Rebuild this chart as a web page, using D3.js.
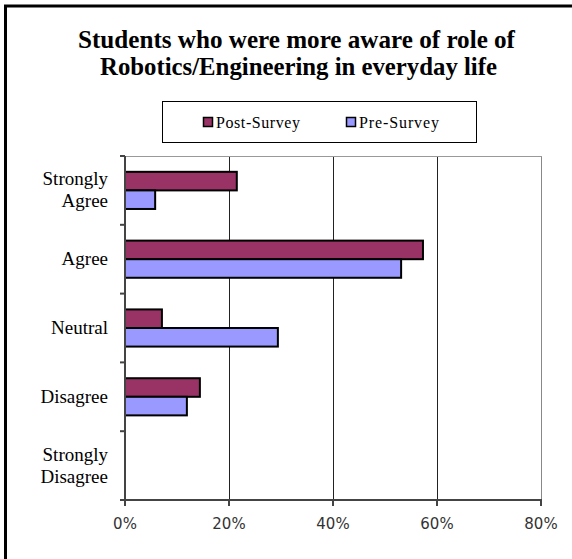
<!DOCTYPE html>
<html>
<head>
<meta charset="utf-8">
<script src="https://cdn.jsdelivr.net/npm/d3@7"></script>
<style>
html,body{margin:0;padding:0;background:#fff;}
svg{display:block;}
.serif{font-family:'Liberation Serif','Times New Roman','DejaVu Serif',serif;}
.sans{font-family:'DejaVu Sans',Verdana,sans-serif;}
</style>
</head>
<body>
<svg id="chart" width="572" height="559"></svg>
<script>
const categories = ["Strongly Agree", "Agree", "Neutral", "Disagree", "Strongly Disagree"];
const categoryLines = [["Strongly", "Agree"], ["Agree"], ["Neutral"], ["Disagree"], ["Strongly", "Disagree"]];
const seriesNames = ["Post-Survey", "Pre-Survey"];
const postSurvey = [21.5, 57.3, 7.1, 14.4, 0];
const preSurvey = [5.8, 53.1, 29.4, 11.9, 0];
const xTicks = [0, 20, 40, 60, 80];
const titleLines = ["Students who were more aware of role of", "Robotics/Engineering in everyday life"];
const colors = ["#993366", "#9999FF"];

(function () {
const svg = d3.select("#chart");
const pLeft = 125, pRight = 541, pTop = 156, pBottom = 500;

// outer frame
svg.append("rect").attr("x", 5.5).attr("y", 6).attr("width", 600).attr("height", 600)
  .attr("fill", "none").attr("stroke", "#000").attr("stroke-width", 3);

// title
const titleLayout = [{cx: 296.5, y: 48, w: 437}, {cx: 298.5, y: 75, w: 397}];
svg.append("g").selectAll("text").data(titleLines).join("text")
  .attr("class", "serif")
  .attr("x", (d, i) => titleLayout[i].cx).attr("y", (d, i) => titleLayout[i].y)
  .attr("text-anchor", "middle")
  .attr("font-weight", "bold").attr("font-size", 26)
  .attr("textLength", (d, i) => titleLayout[i].w).attr("lengthAdjust", "spacingAndGlyphs")
  .attr("fill", "#000")
  .text(d => d);

// legend
const legend = svg.append("g");
legend.append("rect").attr("x", 162.5).attr("y", 101.5).attr("width", 314).attr("height", 41)
  .attr("fill", "#fff").attr("stroke", "#000").attr("stroke-width", 1);
const legendX = [203, 346];
const legendW = [84, 80];
seriesNames.forEach((s, i) => {
  legend.append("rect").attr("x", legendX[i] + 0.5).attr("y", 117.5).attr("width", 9).attr("height", 9)
    .attr("fill", colors[i]).attr("stroke", "#000").attr("stroke-width", 1.5);
  legend.append("text").attr("class", "serif").attr("x", legendX[i] + 13).attr("y", 128)
    .attr("font-size", 16).attr("textLength", legendW[i]).attr("lengthAdjust", "spacing")
    .attr("fill", "#000").text(s);
});

const x = d3.scaleLinear().domain([0, 80]).range([pLeft, pRight]);
const y = d3.scaleBand().domain(categories).range([pTop, pBottom]).paddingInner(0.46).paddingOuter(0.23);
const ySub = d3.scaleBand().domain(seriesNames).range([0, y.bandwidth()]);

// gridlines
svg.append("g").selectAll("line").data(xTicks.slice(1)).join("line")
  .attr("x1", d => Math.round(x(d)) + 0.5).attr("x2", d => Math.round(x(d)) + 0.5)
  .attr("y1", pTop).attr("y2", pBottom)
  .attr("stroke", (d, i) => i === 3 ? "#888" : "#222").attr("stroke-width", 1);
// top border
svg.append("line").attr("x1", pLeft).attr("x2", pRight + 1).attr("y1", pTop + 0.5).attr("y2", pTop + 0.5)
  .attr("stroke", "#999").attr("stroke-width", 1);

// bars
const data = categories.map((c, i) => ({c, vals: [postSurvey[i], preSurvey[i]]}));
const groups = svg.append("g").selectAll("g").data(data).join("g")
  .attr("transform", d => `translate(0,${y(d.c)})`);
groups.selectAll("rect").data(d => d.vals.map((v, j) => ({v, s: seriesNames[j], j})).filter(e => e.v > 0))
  .join("rect")
  .attr("x", x(0)).attr("y", d => ySub(d.s))
  .attr("width", d => x(d.v) - x(0)).attr("height", ySub.bandwidth())
  .attr("fill", d => colors[d.j]).attr("stroke", "#000").attr("stroke-width", 2);

// y axis
const yAxisG = svg.append("g");
yAxisG.append("line").attr("x1", pLeft).attr("x2", pLeft).attr("y1", pTop).attr("y2", pBottom + 1)
  .attr("stroke", "#444").attr("stroke-width", 2);
const step = y.step();
const yTickPos = d3.range(categories.length + 1).map(i => pTop + i * step);
yAxisG.selectAll("line.t").data(yTickPos).join("line").attr("class", "t")
  .attr("x1", pLeft - 5).attr("x2", pLeft).attr("y1", d => d).attr("y2", d => d)
  .attr("stroke", "#444").attr("stroke-width", 2);

// category labels
categoryLines.forEach((lines, i) => {
  const cy = y(categories[i]) + y.bandwidth() / 2;
  const n = lines.length;
  lines.forEach((t, k) => {
    svg.append("text").attr("class", "serif").attr("x", 108).attr("y", cy + 6 + (k - (n - 1) / 2) * 22)
      .attr("text-anchor", "end")
      .attr("font-size", 19).attr("fill", "#000").text(t);
  });
});

// x axis
const xAxisG = svg.append("g");
xAxisG.append("line").attr("x1", pLeft - 1).attr("x2", pRight + 1).attr("y1", pBottom).attr("y2", pBottom)
  .attr("stroke", "#444").attr("stroke-width", 2);
xAxisG.selectAll("line.t").data(xTicks).join("line").attr("class", "t")
  .attr("x1", d => x(d)).attr("x2", d => x(d)).attr("y1", pBottom).attr("y2", pBottom + 6)
  .attr("stroke", "#444").attr("stroke-width", 2);
xAxisG.selectAll("text").data(xTicks).join("text")
  .attr("class", "sans")
  .attr("x", d => x(d)).attr("y", 529)
  .attr("text-anchor", "middle")
  .attr("font-size", 15).attr("fill", "#333")
  .text(d => d + "%");
})();
</script>
</body>
</html>
